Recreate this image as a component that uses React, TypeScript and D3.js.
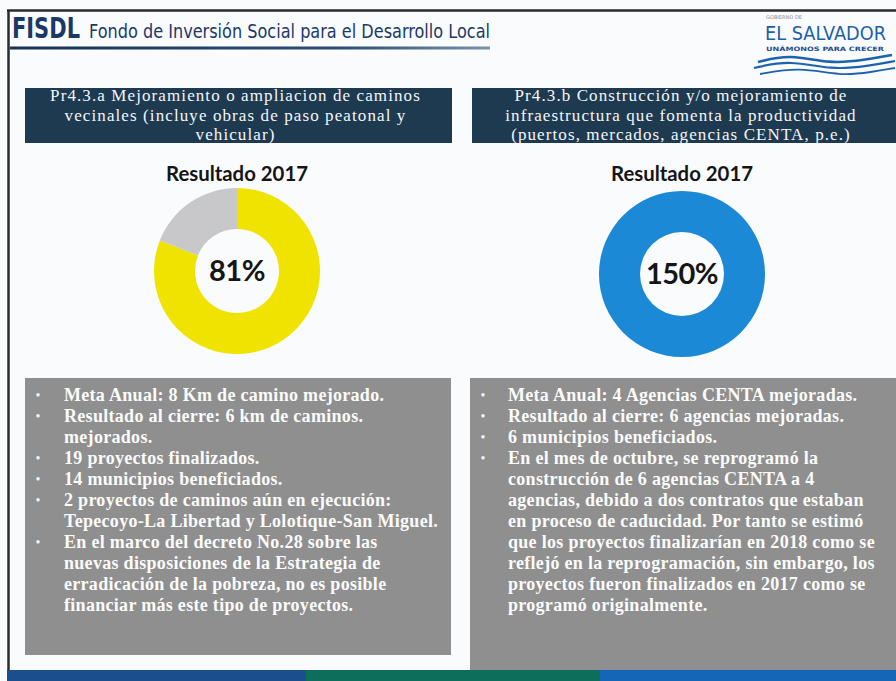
import React from 'react';
import * as d3 from 'd3';

// indicator headers, one list of wrapped lines per panel
const headerLines = [
  ['Pr4.3.a Mejoramiento o ampliacion de caminos', 'vecinales (incluye obras de paso peatonal y', 'vehicular)'],
  ['Pr4.3.b Construcción y/o mejoramiento de', 'infraestructura que fomenta la productividad', '(puertos, mercados, agencias CENTA, p.e.)'],
];

const resultYear = 2017;
const resultPercent = [81, 150];
const goalPercent = 100;

// bullet notes, each bullet = wrapped lines
const leftNotes = [
  ['Meta Anual: 8 Km de camino mejorado.'],
  ['Resultado al cierre: 6 km de caminos.', 'mejorados.'],
  ['19 proyectos finalizados.'],
  ['14 municipios beneficiados.'],
  ['2 proyectos de caminos aún en ejecución:', 'Tepecoyo-La Libertad y Lolotique-San Miguel.'],
  ['En el marco del decreto No.28 sobre las', 'nuevas disposiciones de la Estrategia de', 'erradicación de la pobreza, no es posible', 'financiar más este tipo de proyectos.'],
];
const rightNotes = [
  ['Meta Anual: 4 Agencias CENTA mejoradas.'],
  ['Resultado al cierre: 6 agencias mejoradas.'],
  ['6 municipios beneficiados.'],
  ['En el mes de octubre, se reprogramó la', 'construcción de 6 agencias CENTA a 4', 'agencias, debido a dos contratos que estaban', 'en proceso de caducidad. Por tanto se estimó', 'que los proyectos finalizarían en 2018 como se', 'reflejó en la reprogramación, sin embargo, los', 'proyectos fueron finalizados en 2017 como se', 'programó originalmente.'],
];
const notes = [leftNotes, rightNotes];

const W = 896;
const H = 681;
const NAVY = '#1d3a51';
const GREY_BOX = '#8f8f90';
const donutColors = [['#f1e300', '#c8c8ca'], ['#1b89d5', '#c8c8ca']];
const serif = '"Liberation Serif", "Times New Roman", serif';
const narrow = '"Liberation Sans Narrow", "DejaVu Sans Condensed", sans-serif';

const panels = [
  { hx: 25, hw: 427, cx: 237, cy: 271, bx: 25, bw: 426, bh: 277, bullet: 38, textX: 64 },
  { hx: 472, hw: 424, cx: 682, cy: 274, bx: 470, bw: 426, bh: 292, bullet: 483, textX: 508 },
];

const outerR = 83;
const innerR = 42;

const pie = d3.pie<number>().value(d => d).sort(null);
const arc = d3.arc<d3.PieArcDatum<number>>().innerRadius(innerR).outerRadius(outerR);

const wave = d3.line().curve(d3.curveBasis);

function Donut({ value, colors, cx, cy }: { value: number; colors: string[]; cx: number; cy: number }) {
  const done = Math.min(value, goalPercent);
  const slices = pie([done, goalPercent - done]);
  return (
    <g transform={`translate(${cx},${cy})`}>
      {slices.map((s, i) => s.value > 0 && (
        <path key={i} d={arc(s) || ''} fill={colors[i]} />
      ))}
      <text y={10} textAnchor="middle" fontFamily="Lato, sans-serif" fontWeight={700}
        fontSize={29} fill="#151515" letterSpacing={-0.5}>{value}%</text>
    </g>
  );
}

export default function App() {
  const lineH = 21;
  return (
    <svg width={W} height={H} style={{ position: 'absolute', left: 0, top: 0, display: 'block' }}>
      <defs>
        <linearGradient id="rule" x1="0" x2="1">
          <stop offset="0" stopColor="#17315a" />
          <stop offset="0.7" stopColor="#2c4d78" />
          <stop offset="1" stopColor="#7d93ad" />
        </linearGradient>
      </defs>
      <rect width={W} height={H} fill="#fafbfc" />

      {/* frame */}
      <line x1={7} x2={W} y1={10.5} y2={10.5} stroke="#2b2b2b" strokeWidth={2.5} />
      <line x1={8.5} x2={8.5} y1={10} y2={670} stroke="#2b2b2b" strokeWidth={2.5} />

      {/* title */}
      <text x={12} y={38} fontFamily={narrow} fontWeight={700} fontSize={28} fill="#1b3968"
        textLength={68} lengthAdjust="spacingAndGlyphs">FISDL</text>
      <text x={89} y={38} fontFamily={narrow} fontSize={19} fill="#1b3968"
        textLength={401} lengthAdjust="spacingAndGlyphs">Fondo de Inversión Social para el Desarrollo Local</text>
      <rect x={10} y={46.5} width={480} height={3} fill="url(#rule)" />

      {/* logo */}
      <text x={766} y={19} fontFamily={narrow} fontSize={5} fill="#8a94a0"
        textLength={36} lengthAdjust="spacingAndGlyphs">GOBIERNO DE</text>
      <text x={765} y={40} fontFamily={narrow} fontSize={19} fill="#1d5fa9"
        textLength={121} lengthAdjust="spacingAndGlyphs">EL SALVADOR</text>
      <text x={766} y={51} fontFamily={narrow} fontWeight={700} fontSize={6} fill="#1b4f8f"
        textLength={118} lengthAdjust="spacingAndGlyphs">UNÁMONOS PARA CRECER</text>
      <path d={wave([[758, 62], [790, 54], [830, 64], [865, 60], [892, 55]]) || ''} fill="none" stroke="#1d62ad" strokeWidth={2.6} />
      <path d={wave([[754, 68], [790, 60], [832, 70], [868, 66], [895, 61]]) || ''} fill="none" stroke="#1d62ad" strokeWidth={2.2} />
      <path d={wave([[760, 74], [800, 67], [840, 76], [872, 72], [895, 68]]) || ''} fill="none" stroke="#1d62ad" strokeWidth={1.8} />

      {panels.map((p, i) => (
        <g key={i}>
          {/* header box */}
          <rect x={p.hx} y={88} width={p.hw} height={55} fill={NAVY} />
          {headerLines[i].map((t, j) => (
            <text key={j} x={p.hx + p.hw / 2 - 3} y={101 + j * 19.5} textAnchor="middle"
              fontFamily={serif} fontSize={17} letterSpacing={1.1} fill="#f4f6f8">{t}</text>
          ))}

          <text x={p.cx} y={181} textAnchor="middle" fontFamily="Lato, sans-serif" fontWeight={700}
            fontSize={20} fill="#151515" textLength={142} lengthAdjust="spacingAndGlyphs">
            {`Resultado ${resultYear}`}
          </text>

          <Donut value={resultPercent[i]} colors={donutColors[i]} cx={p.cx} cy={p.cy} />

          {/* notes box */}
          <rect x={p.bx} y={378} width={p.bw} height={p.bh} fill={GREY_BOX} />
          {(() => {
            let row = 0;
            return notes[i].map((item, k) => (
              <g key={k}>
                <text x={p.bullet} y={400 + row * lineH} fontFamily={serif} fontSize={14}
                  fill="#f2f2f2" textAnchor="middle">•</text>
                {item.map(line => {
                  const y = 401 + row * lineH;
                  row++;
                  return (
                    <text key={line} x={p.textX} y={y} fontFamily={serif} fontSize={18}
                      fontWeight={700} letterSpacing={0.3} fill="#fbfbfb">{line}</text>
                  );
                })}
              </g>
            ));
          })()}
        </g>
      ))}

      {/* footer band */}
      <rect x={7} y={670} width={299} height={11} fill="#1a4e8c" />
      <rect x={306} y={670} width={294} height={11} fill="#0d6e5c" />
      <rect x={600} y={670} width={296} height={11} fill="#1666b8" />
    </svg>
  );
}
